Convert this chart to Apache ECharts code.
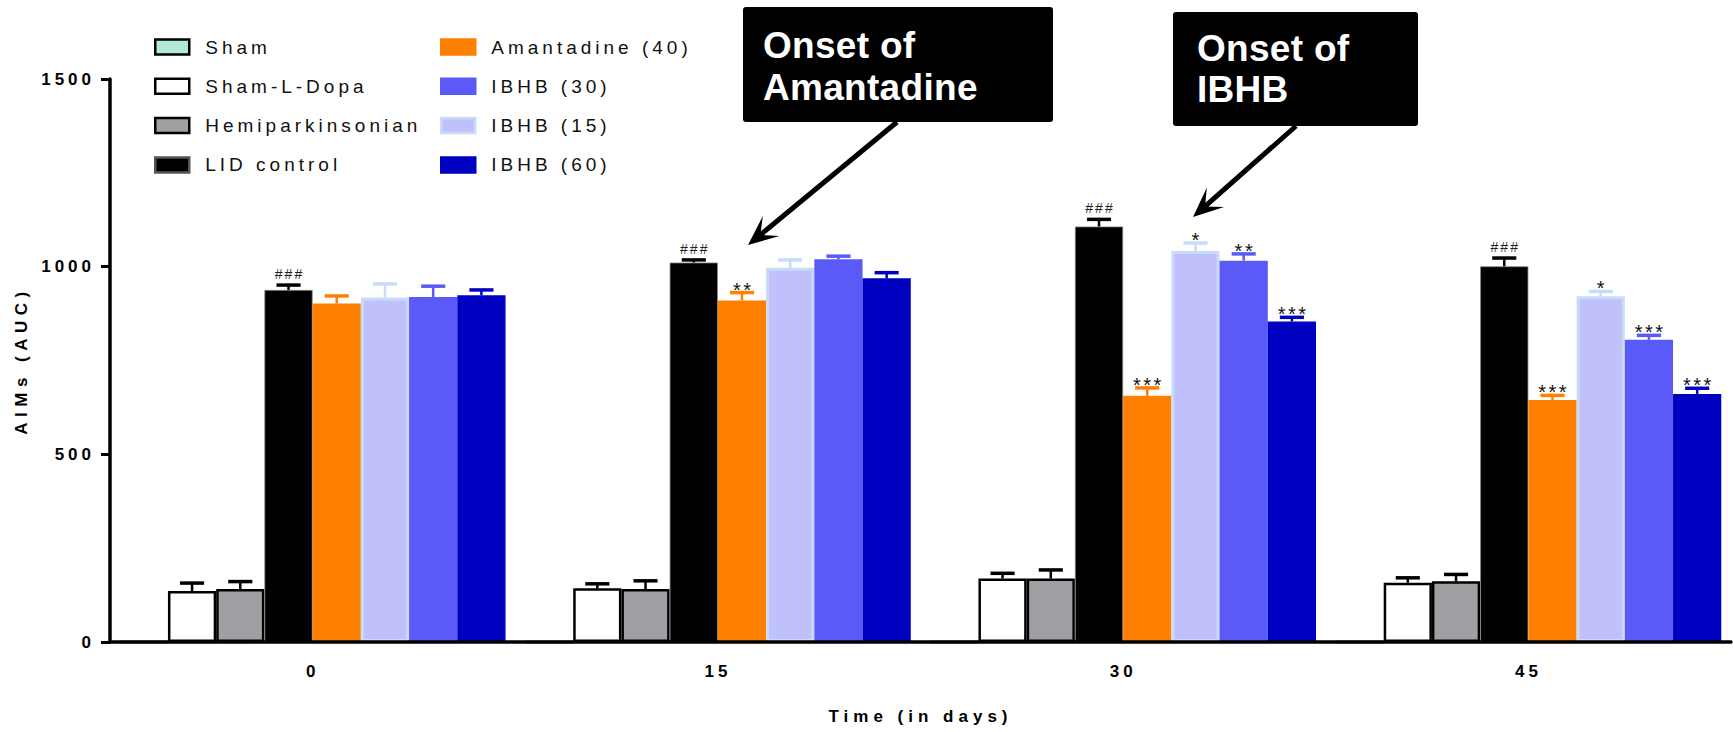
<!DOCTYPE html>
<html><head><meta charset="utf-8">
<script src="https://cdn.jsdelivr.net/npm/echarts@6/dist/echarts.min.js"></script>
<style>html,body{margin:0;padding:0;background:#fff}#c{width:1733px;height:732px}</style>
</head><body><div id="c"></div>
<script>
// ---- data ----
const categories = ['0', '15', '30', '45'];
const yMin = 0, yMax = 1500, yInterval = 500;

const seriesNames = ['Sham', 'Sham-L-Dopa', 'Hemiparkinsonian', 'LID control', 'Amantadine (40)', 'IBHB (15)', 'IBHB (30)', 'IBHB (60)'];
const legendLeftNames = ['Sham', 'Sham-L-Dopa', 'Hemiparkinsonian', 'LID control'];
const legendRightNames = ['Amantadine (40)', 'IBHB (30)', 'IBHB (15)', 'IBHB (60)'];

const sham = [0, 0, 0, 0];
const shamErr = [null, null, null, null];
const shamLDopa = [136, 143, 169, 158];
const shamLDopaErr = [21, 12, 14, 13];
const hemi = [141, 141, 169, 162];
const hemiErr = [20, 22, 23, 18];
const lid = [938, 1011, 1107, 1001];
const lidErr = [13, 7, 19, 22];
const amant = [902, 910, 656, 645];
const amantErr = [20, 21, 21, 12];
const ibhb15 = [918, 997, 1042, 921];
const ibhb15Err = [36, 21, 21, 13];
const ibhb30 = [919, 1020, 1016, 805];
const ibhb30Err = [29, 8, 18, 12];
const ibhb60 = [924, 969, 854, 661];
const ibhb60Err = [14, 15, 11, 15];

const noSig = ['', '', '', ''];
const lidSig = ['###', '###', '###', '###'];
const amantSig = ['', '**', '***', '***'];
const ibhb15Sig = ['', '', '*', '*'];
const ibhb30Sig = ['', '', '**', '***'];
const ibhb60Sig = ['', '', '***', '***'];

const annotations = [
  { lines: 'Onset of\nAmantadine' },
  { lines: 'Onset of\nIBHB' }
];

// ---- styles ----
const FONT = '"Liberation Sans", Arial, Helvetica, sans-serif';
const GAP = 0.048;
const styles = [
  { color: '#b3ead6', borderColor: '#000', borderWidth: 2.5, err: '#000' },
  { color: '#ffffff', borderColor: '#000', borderWidth: 2.5, err: '#000' },
  { color: '#a0a0a4', borderColor: '#000', borderWidth: 2.5, err: '#000' },
  { color: '#000000', borderColor: '#888', borderWidth: 0.8, err: '#000' },
  { color: '#ff8000', borderColor: '#ff8000', borderWidth: 0, err: '#ff8000' },
  { color: '#c0c0fc', borderColor: '#c8dcf8', borderWidth: 3, err: '#c8dcf8' },
  { color: '#5a5af8', borderColor: '#5a5af8', borderWidth: 0, err: '#5a5af8' },
  { color: '#0000c0', borderColor: '#0000c0', borderWidth: 0, err: '#0000c0' }
];
const values = [sham, shamLDopa, hemi, lid, amant, ibhb15, ibhb30, ibhb60];
const errs = [shamErr, shamLDopaErr, hemiErr, lidErr, amantErr, ibhb15Err, ibhb30Err, ibhb60Err];
const sigs = [noSig, noSig, noSig, lidSig, amantSig, ibhb15Sig, ibhb30Sig, ibhb60Sig];

const series = [];
seriesNames.forEach((name, i) => {
  series.push({
    name, type: 'bar', data: values[i], barGap: '0%', barCategoryGap: (GAP * 100) + '%',
    itemStyle: { color: styles[i].color, borderColor: styles[i].borderColor, borderWidth: styles[i].borderWidth },
    emphasis: { disabled: true }, z: 2
  });
});
seriesNames.forEach((name, i) => {
  const data = [];
  values[i].forEach((v, ci) => { if (errs[i][ci] != null) data.push([ci, v, errs[i][ci]]); });
  if (!data.length) return;
  series.push({
    type: 'custom', name: '_err' + i, data, z: 4, silent: true,
    encode: { x: 0, y: 1 },
    renderItem(params, api) {
      const ci = api.value(0), v = api.value(1), e = api.value(2);
      const base = api.coord([ci, v]);
      const band = api.size([1, 0])[0];
      const bw = band * (1 - GAP) / 8;
      const x = base[0] + (i - 3.5) * bw;
      const top = api.coord([ci, v + e])[1];
      const capW = bw * 0.5;
      const col = styles[i].err;
      const children = [
        { type: 'line', shape: { x1: x, y1: base[1], x2: x, y2: top }, style: { stroke: col, lineWidth: 2.5 } },
        { type: 'line', shape: { x1: x - capW / 2, y1: top, x2: x + capW / 2, y2: top }, style: { stroke: col, lineWidth: 3.5 } }
      ];
      const s = sigs[i][ci];
      if (s) {
        const isHash = s[0] === '#';
        children.push({
          type: 'text',
          style: {
            text: s, x: x + (isHash ? 1 : 1.2), y: isHash ? top - 4 : top + 7,
            align: 'center', verticalAlign: 'bottom',
            fontSize: isHash ? 14 : 20, fontFamily: FONT, fill: isHash ? '#222' : '#111'
          }
        });
      }
      return { type: 'group', children };
    }
  });
});

function legendItems(names) {
  return names.map(n => {
    const i = seriesNames.indexOf(n);
    const st = styles[i];
    let bc = st.borderColor;
    if (n === 'LID control') bc = '#555';
    return { name: n, itemStyle: { color: st.color, borderColor: bc, borderWidth: 2.5 } };
  });
}
const legendCommon = {
  orient: 'vertical', top: 32, itemWidth: 34, itemHeight: 15, itemGap: 19.3, icon: 'rect',
  selectedMode: false,
  textStyle: { fontSize: 19, color: '#111', fontFamily: FONT, lineHeight: 20, padding: [0, 0, 0, 11] }
};

function arrowEls(x1, y1, x2, y2) {
  const dx = x2 - x1, dy = y2 - y1, len = Math.hypot(dx, dy);
  const ux = dx / len, uy = dy / len, px = -uy, py = ux;
  const L = 30, W = 13, N = 16;
  const bx = x2 - ux * L, by = y2 - uy * L;
  return [
    { type: 'line', shape: { x1, y1, x2: x2 - ux * N, y2: y2 - uy * N }, style: { stroke: '#000', lineWidth: 5 }, z: 100 },
    { type: 'polygon', shape: { points: [[x2, y2], [bx + px * W, by + py * W], [x2 - ux * N, y2 - uy * N], [bx - px * W, by - py * W]] }, style: { fill: '#000' }, z: 100 }
  ];
}

const graphic = [
  { type: 'rect', shape: { x: 743, y: 7, width: 310, height: 115, r: 3 }, style: { fill: '#000' }, z: 100 },
  { type: 'text', style: { text: annotations[0].lines, x: 763, y: 24, fill: '#fff', fontSize: 37, fontWeight: 'bold', fontFamily: FONT, lineHeight: 42, verticalAlign: 'top' }, z: 101 },
  { type: 'rect', shape: { x: 1173, y: 12, width: 245, height: 114, r: 3 }, style: { fill: '#000' }, z: 100 },
  { type: 'text', style: { text: annotations[1].lines, x: 1197, y: 28, fill: '#fff', fontSize: 37, fontWeight: 'bold', fontFamily: FONT, lineHeight: 41, verticalAlign: 'top' }, z: 101 },
  ...arrowEls(897, 122, 748, 245),
  ...arrowEls(1296, 126, 1193, 217)
];

const chart = echarts.init(document.getElementById('c'), null, { renderer: 'svg' });
chart.setOption({
  animation: false,
  backgroundColor: '#fff',
  textStyle: { fontFamily: FONT },
  grid: { left: 110, right: 2, top: 79, bottom: 90 },
  legend: [
    Object.assign({}, legendCommon, { left: 149, data: legendItems(legendLeftNames) }),
    Object.assign({}, legendCommon, { left: 435, data: legendItems(legendRightNames) })
  ],
  xAxis: {
    type: 'category', data: categories, z: 10,
    name: 'Time (in days)', nameLocation: 'middle', nameGap: 66,
    nameTextStyle: { fontSize: 17, fontWeight: 'bold', color: '#000', fontFamily: FONT },
    axisLine: { lineStyle: { color: '#000', width: 3.5 } },
    axisTick: { alignWithLabel: true, length: 8, lineStyle: { color: '#000', width: 3 } },
    axisLabel: { fontSize: 17, fontWeight: 'bold', color: '#000', margin: 21, fontFamily: FONT },
    splitLine: { show: false }
  },
  yAxis: {
    type: 'value', min: yMin, max: yMax, interval: yInterval, z: 10,
    name: 'AIMs (AUC)', nameLocation: 'middle', nameGap: 80, nameRotate: 90,
    nameTextStyle: { fontSize: 17, fontWeight: 'bold', color: '#000', fontFamily: FONT },
    axisLine: { show: true, lineStyle: { color: '#000', width: 3.5 } },
    axisTick: { show: true, length: 9, lineStyle: { color: '#000', width: 3 } },
    axisLabel: { fontSize: 17, fontWeight: 'bold', color: '#000', margin: 15, fontFamily: FONT, formatter: v => String(v) },
    splitLine: { show: false }
  },
  graphic,
  series
});

const allNames = seriesNames;
function applySpacing() {
  document.querySelectorAll('#c svg text').forEach(t => {
    const s = t.textContent.trim();
    let ls = null;
    if (allNames.includes(s)) ls = '4px';
    else if (/^\d+$/.test(s)) ls = '4px';
    else if (s === 'Time (in days)') ls = '5px';
    else if (s === 'AIMs (AUC)') ls = '5.5px';
    else if (/^#+$/.test(s)) ls = '2px';
    else if (/^\*+$/.test(s)) ls = '2.5px';
    else if (s.indexOf('Onset') === 0 || s === 'Amantadine' || s === 'IBHB') ls = '0.3px';
    if (ls) t.style.letterSpacing = ls;
  });
}
applySpacing();
chart.on('finished', applySpacing);
</script>
</body></html>
